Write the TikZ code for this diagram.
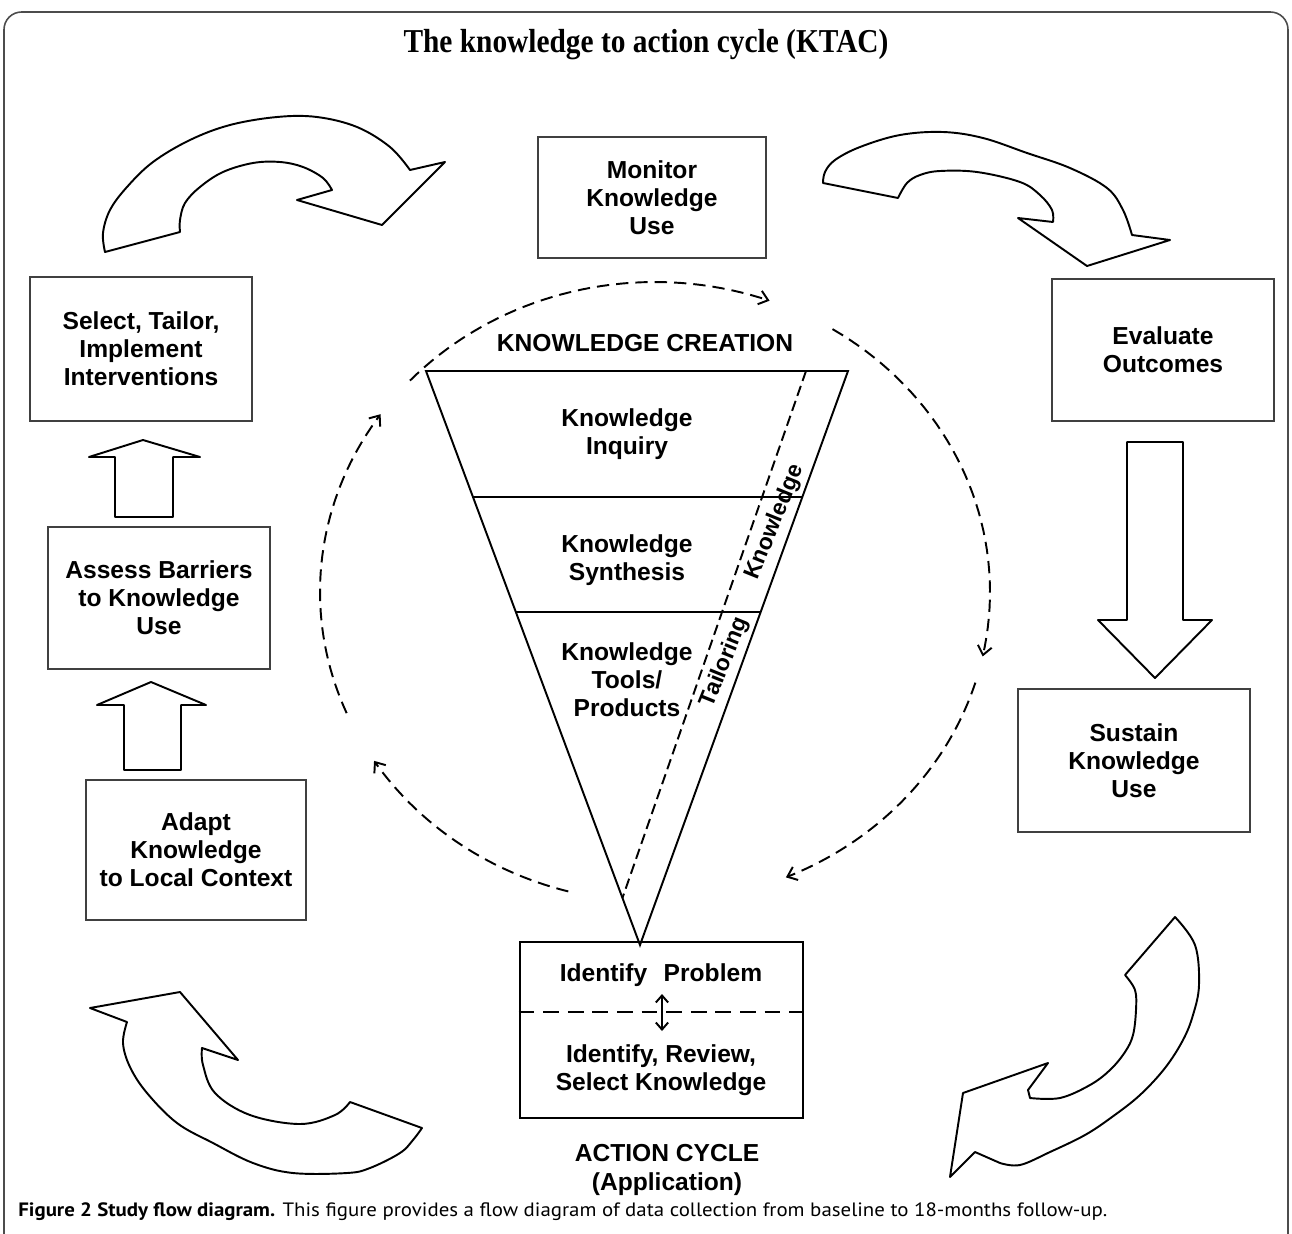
\documentclass[tikz,border=0pt]{standalone}
\usepackage{graphicx}
\usepackage{fontspec}
\setmainfont{Liberation Serif}
\newfontfamily\arialf{Liberation Sans}
\newfontfamily\capfont{PT Sans}
\usetikzlibrary{arrows.meta,calc}
\begin{document}
\begin{tikzpicture}[x=0.02cm,y=-0.02cm,
  frameline/.style={draw=black!70, line width=0.9pt},
  boxnode/.style={draw=black!75, line width=1.1pt, align=center, font=\arialf\bfseries\fontsize{14}{16}\selectfont, inner sep=0pt},
  lbl/.style={align=center, font=\arialf\bfseries\fontsize{14}{16}\selectfont, inner sep=0pt},
  bigarrow/.style={draw=black, line width=1.1pt, fill=white, line join=round},
  dasharc/.style={draw=black, line width=1.1pt, dash pattern=on 7pt off 4pt, -{Straight Barb[length=5pt,width=8pt]}},
  tri/.style={draw=black, line width=1.1pt}
]
\useasboundingbox (0,0) rectangle (1292,1234);
% frame
\draw[frameline, rounded corners=10pt] (4,1240) -- (4,12) -- (1288,12) -- (1288,1240);
% title
\node (title) at (646,45) {\resizebox{9.7cm}{\height}{\bfseries\fontsize{19}{22}\selectfont The knowledge to action cycle (KTAC)}};

% boxes
\node[boxnode, minimum width=4.56cm, minimum height=2.42cm] (mon) at (652,197.5) {Monitor\\Knowledge\\Use};
\node[boxnode, minimum width=4.44cm, minimum height=2.84cm] (eva) at (1163,350) {Evaluate\\Outcomes};
\node[boxnode, minimum width=4.64cm, minimum height=2.86cm] (sus) at (1134,760.5) {Sustain\\Knowledge\\Use};
\node[boxnode, minimum width=4.44cm, minimum height=2.88cm] (sel) at (141,349) {Select, Tailor,\\Implement\\Interventions};
\node[boxnode, minimum width=4.44cm, minimum height=2.84cm] (ass) at (159,598) {Assess Barriers\\to Knowledge\\Use};
\node[boxnode, minimum width=4.40cm, minimum height=2.80cm] (ada) at (196,850) {Adapt\\Knowledge\\to Local Context};

% action box
\node[draw=black, line width=1.6pt, minimum width=5.66cm, minimum height=3.52cm, inner sep=0pt] (act) at (661.5,1030) {};
\node[lbl] (idp) at (661,975) {Identify\enspace\,Problem};
\node[lbl] (irs) at (661,1070) {Identify, Review,\\Select Knowledge};
\draw[line width=1.4pt, dash pattern=on 9pt off 5pt] ([yshift=0.36cm]act.west) -- ([yshift=0.36cm]act.east);
\coordinate (da1) at (662,994);
\coordinate (da2) at (662,1031);
\draw[line width=1.1pt, {Straight Barb[length=4pt,width=7pt]}-{Straight Barb[length=4pt,width=7pt]}] (da1) -- (da2);
\node[lbl] (acl) at (667,1170) {ACTION CYCLE\\(Application)};

% triangle
\coordinate (tA) at (426,371);
\coordinate (tB) at (848,371);
\coordinate (tC) at (640,945);
\draw[tri] (tA) -- (tB) -- (tC) -- cycle;
\draw[tri] ($(tA)!0.2195!(tC)$) -- ($(tB)!0.2195!(tC)$);
\draw[tri] ($(tA)!0.4199!(tC)$) -- ($(tB)!0.4199!(tC)$);
\coordinate (td1) at (806,371);
\draw[tri, dash pattern=on 6pt off 3pt] (td1) -- ($(tA)!0.918!(tC)$);
\node[lbl] (kc) at (645,343) {KNOWLEDGE CREATION};
\node[lbl] (kinq) at (627,434) {Knowledge\\Inquiry};
\node[lbl] (ksyn) at (627,560) {Knowledge\\Synthesis};
\node[lbl] (ktool) at (627,680) {Knowledge\\Tools/\\Products};
\node[lbl, rotate=68, font=\arialf\bfseries\fontsize{13}{15}\selectfont] (kn) at (775,522) {Knowledge};
\node[lbl, rotate=68, font=\arialf\bfseries\fontsize{13}{15}\selectfont] (tl) at (725,662) {Tailoring};

% dashed arcs
\draw[dasharc] plot[domain=137:70, samples=40, variable=\t] ({655+335*cos(\t)},{592-310*sin(\t)});
\draw[dasharc] plot[domain=58:-12, samples=40, variable=\t] ({655+335*cos(\t)},{592-310*sin(\t)});
\draw[dasharc] plot[domain=-17:-67, samples=40, variable=\t] ({655+335*cos(\t)},{592-310*sin(\t)});
\draw[dasharc] plot[domain=255:213, samples=40, variable=\t] ({655+335*cos(\t)},{592-310*sin(\t)});
\draw[dasharc] plot[domain=203:145, samples=40, variable=\t] ({655+335*cos(\t)},{592-310*sin(\t)});

% straight block arrows
\draw[bigarrow] (115,517) -- (115,457) -- (89,457) -- (143,440) -- (200,457) -- (173,457) -- (173,517) -- cycle;
\draw[bigarrow] (124,770) -- (124,705) -- (97,705) -- (151,682) -- (206,705) -- (181,705) -- (181,770) -- cycle;
\draw[bigarrow] (1127,442) -- (1183,442) -- (1183,620) -- (1212,620) -- (1155,678) -- (1098,620) -- (1127,620) -- cycle;

% curved block arrows
\draw[bigarrow] plot[smooth, tension=0.6] coordinates {(105,252) (103,233) (110,210) (127,187) (153,162) (190,140) (230,125) (277,117) (317,117) (357,127) (390,147) (410,170)}
  -- (445,162) -- (382,225) -- (297,200) -- (332,190)
  -- plot[smooth, tension=0.6] coordinates {(332,190) (323,178) (303,167) (280,162) (253,163) (223,172) (200,187) (185,203) (180,220) (180,232)} -- cycle;

\draw[bigarrow] plot[smooth, tension=0.6] coordinates {(823,183) (825,172) (835,160) (860,147) (900,135) (943,132) (983,138) (1027,153) (1070,168) (1107,188) (1123,210) (1132,235)}
  -- (1170,240) -- (1087,266) -- (1018,218) -- (1053,222)
  -- plot[smooth, tension=0.6] coordinates {(1053,222) (1052,210) (1040,195) (1020,182) (977,172) (940,171) (920,175) (907,183) (898,198)} -- cycle;

\draw[bigarrow] (90,1008) -- (180,992) -- (238,1060) -- (202,1048)
  -- plot[smooth, tension=0.6] coordinates {(202,1048) (203,1065) (215,1093) (250,1115) (300,1124) (335,1115) (350,1102)}
  -- (422,1128)
  -- plot[smooth, tension=0.6] coordinates {(422,1128) (413,1140) (400,1153) (370,1168) (347,1173) (293,1173) (253,1163) (213,1143) (177,1123) (147,1093) (130,1067) (123,1043) (127,1022)} -- cycle;

\draw[bigarrow] plot[smooth, tension=0.6] coordinates {(1175,917) (1195,945) (1199,985) (1193,1015) (1183,1040) (1165,1068) (1140,1095) (1112,1117) (1085,1135) (1050,1152) (1020,1165) (1000,1163)}
  -- (975,1152) -- (950,1177) -- (963,1093) -- (1048,1063) -- (1028,1090) -- (1030,1098)
  -- plot[smooth, tension=0.6] coordinates {(1030,1098) (1060,1098) (1090,1085) (1110,1070) (1125,1052) (1133,1035) (1136,1010) (1135,990) (1125,975)} -- cycle;

% caption
\node[anchor=base west, inner sep=0pt] (cap) at (18,1216) {\resizebox{21.78cm}{\height}{\capfont\fontsize{11}{13}\selectfont\textbf{Figure 2 Study flow diagram.} This figure provides a flow diagram of data collection from baseline to 18-months follow-up.}};
\end{tikzpicture}
\end{document}
